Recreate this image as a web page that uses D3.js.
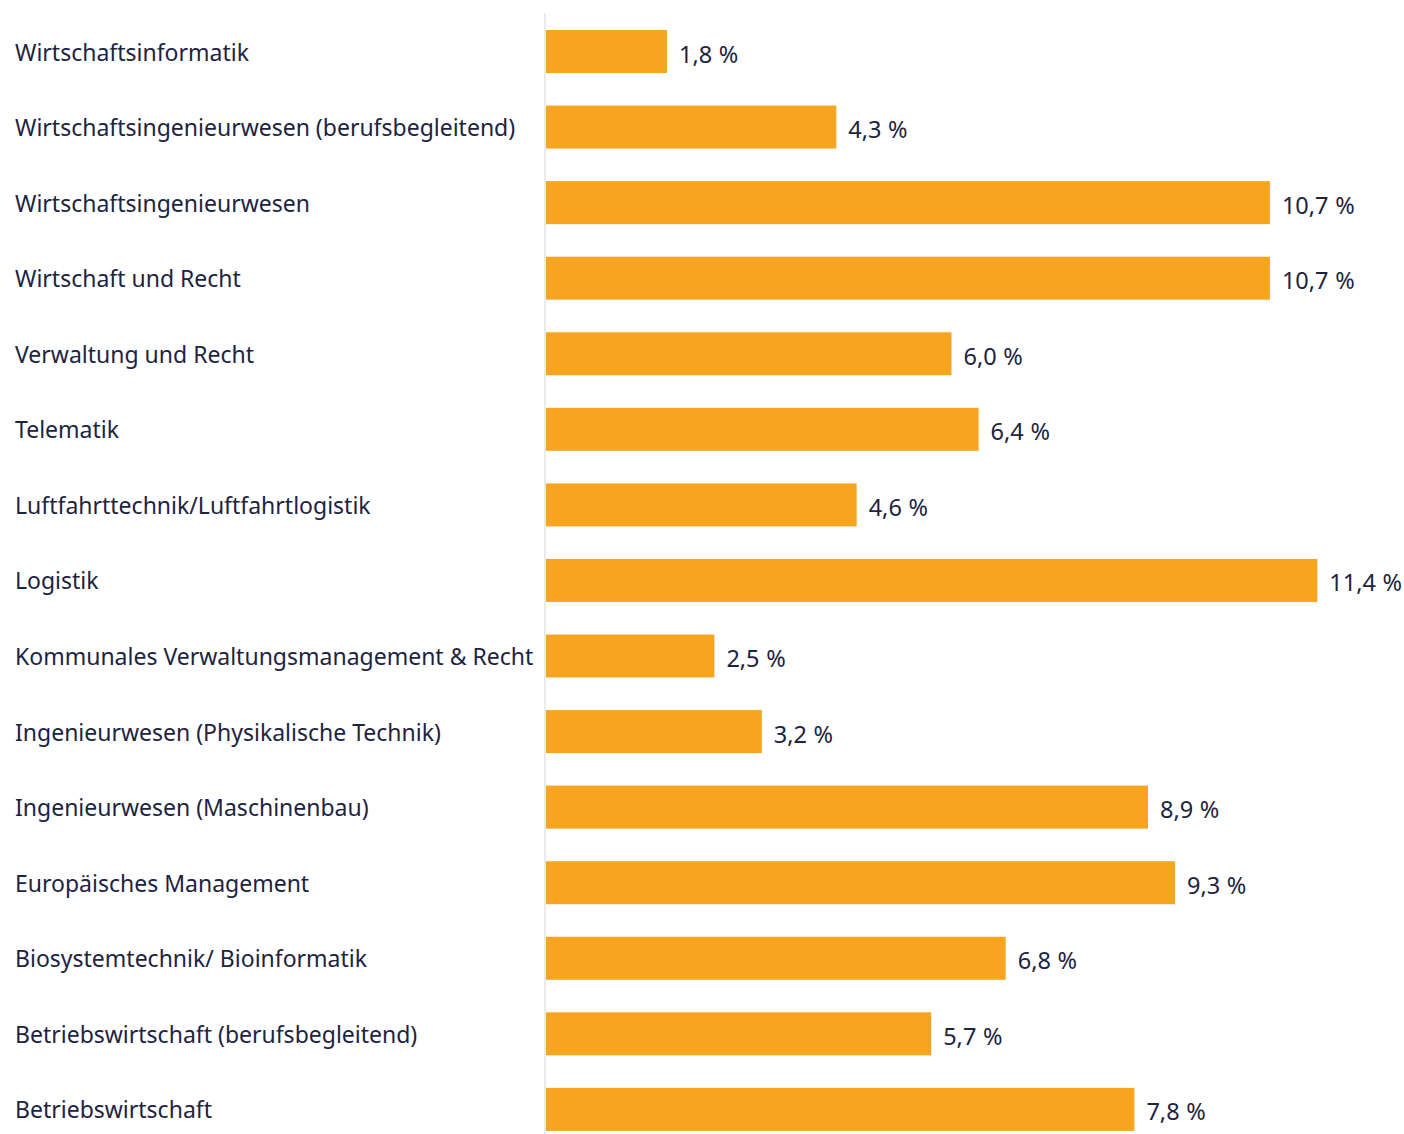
<!DOCTYPE html>
<html>
<head>
<meta charset="utf-8">
<script src="https://cdn.jsdelivr.net/npm/d3@7"></script>
<style>
  body { margin: 0; background: #fff; }
  text { font-family: "Noto Sans", "Open Sans", sans-serif; fill: #1c2442; }
</style>
</head>
<body>
<div id="chart"></div>
<script>
const categories = [
  'Wirtschaftsinformatik',
  'Wirtschaftsingenieurwesen (berufsbegleitend)',
  'Wirtschaftsingenieurwesen',
  'Wirtschaft und Recht',
  'Verwaltung und Recht',
  'Telematik',
  'Luftfahrttechnik/Luftfahrtlogistik',
  'Logistik',
  'Kommunales Verwaltungsmanagement & Recht',
  'Ingenieurwesen (Physikalische Technik)',
  'Ingenieurwesen (Maschinenbau)',
  'Europäisches Management',
  'Biosystemtechnik/ Bioinformatik',
  'Betriebswirtschaft (berufsbegleitend)',
  'Betriebswirtschaft'
];
// bar lengths as drawn in the picture
const values = [1.8, 4.3, 10.7, 10.7, 6.0, 6.4, 4.6, 11.4, 2.5, 3.2, 8.9, 9.3, 6.8, 5.7, 8.7];
// printed value labels (last bar is labelled 7,8 % in the source)
const valueLabels = ['1,8 %', '4,3 %', '10,7 %', '10,7 %', '6,0 %', '6,4 %', '4,6 %', '11,4 %',
  '2,5 %', '3,2 %', '8,9 %', '9,3 %', '6,8 %', '5,7 %', '7,8 %'];

const w = 1404, h = 1134;
const x0 = 545; // bar baseline

const svg = d3.select('#chart')
  .append('svg')
  .attr('width', w)
  .attr('height', h);

const x = d3.scaleLinear().domain([0, 12]).range([x0, x0 + 12 * 67.75]);
const y = d3.scaleBand()
  .domain(categories)
  .range([14.9, 1146])
  .paddingInner(0.431)
  .paddingOuter(0.2);

const color = '#f7a51f';

// vertical baseline
svg.append('line')
  .attr('x1', x0).attr('x2', x0)
  .attr('y1', 13).attr('y2', h)
  .attr('stroke', '#e3e3e3')
  .attr('stroke-width', 1.5);

const rows = svg.selectAll('g.row')
  .data(categories.map((c, i) => ({cat: c, val: values[i], label: valueLabels[i]})))
  .enter()
  .append('g')
  .attr('class', 'row');

rows.append('rect')
  .attr('x', x(0) + 1)
  .attr('y', d => y(d.cat))
  .attr('width', d => x(d.val) - x(0) - 1)
  .attr('height', y.bandwidth())
  .attr('fill', color);

rows.append('text')
  .attr('x', 15)
  .attr('y', d => y(d.cat) + y.bandwidth() / 2)
  .attr('dominant-baseline', 'central')
  .style('font-size', '23px')
  .text(d => d.cat);

rows.append('text')
  .attr('x', d => x(d.val) + 12)
  .attr('y', d => y(d.cat) + y.bandwidth() / 2 + 2)
  .attr('dominant-baseline', 'central')
  .style('font-size', '23.5px')
  .style('word-spacing', '0.5px')
  .text(d => d.label);
</script>
</body>
</html>
